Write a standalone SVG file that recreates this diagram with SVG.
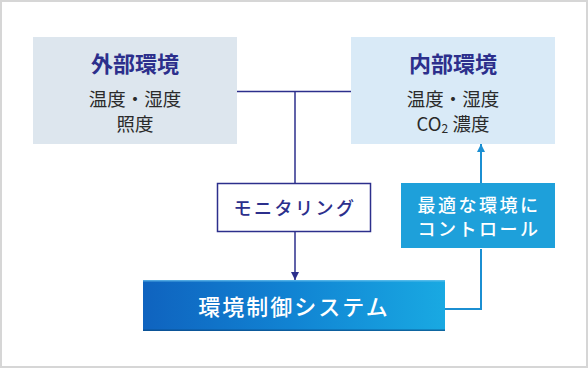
<svg xmlns="http://www.w3.org/2000/svg" width="588" height="368" viewBox="0 0 588 368">
<defs>
<style>
.t{font-family:"Noto Sans CJK JP","Noto Sans CJK SC",sans-serif;text-anchor:middle}
.title{font-size:22px;font-weight:bold;fill:#2c2f8c}
.sub{font-size:18.5px;fill:#2a2a2a}
.navy{fill:none;stroke:#2c2f8c;stroke-width:1.5}
.blue{fill:none;stroke:#1b8fd2;stroke-width:2}
.lbl{font-size:18px;font-weight:500;letter-spacing:2.5px}
</style>
<linearGradient id="sys" x1="0" y1="0" x2="1" y2="0">
<stop offset="0" stop-color="#0f63bf"/>
<stop offset="0.5" stop-color="#1184d3"/>
<stop offset="1" stop-color="#19a9e2"/>
</linearGradient>
<marker id="an" viewBox="0 0 10 10" refX="10" refY="5" markerWidth="8" markerHeight="8" markerUnits="userSpaceOnUse" orient="auto">
<path d="M0,0 L10,5 L0,10 z" fill="#2c2f8c"/>
</marker>
<marker id="ab" viewBox="0 0 10 10" refX="10" refY="5" markerWidth="8" markerHeight="8" markerUnits="userSpaceOnUse" orient="auto">
<path d="M0,0 L10,5 L0,10 z" fill="#1b8fd2"/>
</marker>
</defs>
<rect x="0.5" y="0.5" width="587" height="367" fill="#fff" stroke="#d6d6d6" stroke-width="3"/>
<g id="connectors">
<path class="navy" d="M237,91.5 H351"/>
<path class="navy" d="M295,91.5 V183.5"/>
<path class="navy" d="M295,232 V280" marker-end="url(#an)"/>
<path class="blue" d="M445,309 H481 V249"/>
<path class="blue" d="M481,183 V144" marker-end="url(#ab)"/>
</g>
<g id="outer">
<rect x="33" y="37" width="204" height="107" fill="#dde6ee"/>
<text class="t title" x="135" y="72">外部環境</text>
<text class="t sub" x="135" y="106">温度・湿度</text>
<text class="t sub" x="135" y="131">照度</text>
</g>
<g id="inner">
<rect x="351" y="37" width="204" height="107" fill="#d9eaf7"/>
<text class="t title" x="453" y="72">内部環境</text>
<text class="t sub" x="453" y="106">温度・湿度</text>
<text class="t sub" x="453" y="131">CO<tspan font-size="12" dy="2">2</tspan><tspan dy="-2"> 濃度</tspan></text>
</g>
<g id="monitoring">
<rect x="217.5" y="183.5" width="153" height="48" fill="#fff" stroke="#2c2f8c" stroke-width="1.5"/>
<text class="t lbl" x="295" y="215" fill="#2c2f8c">モニタリング</text>
</g>
<g id="control">
<rect x="401" y="183" width="154" height="65" fill="#1ea0da"/>
<text class="t lbl" x="479" y="212" fill="#fff">最適な環境に</text>
<text class="t lbl" x="479" y="236" fill="#fff">コントロール</text>
</g>
<g id="system">
<rect x="143" y="280" width="302" height="51" fill="url(#sys)"/>
<rect x="143" y="280" width="302" height="1.5" fill="#6cc3ee" opacity="0.7"/>
<rect x="143" y="329.5" width="302" height="1.5" fill="#0a4c86" opacity="0.7"/>
<text class="t" x="294" y="315" font-size="22" font-weight="500" fill="#fff" letter-spacing="2">環境制御システム</text>
</g>
</svg>
